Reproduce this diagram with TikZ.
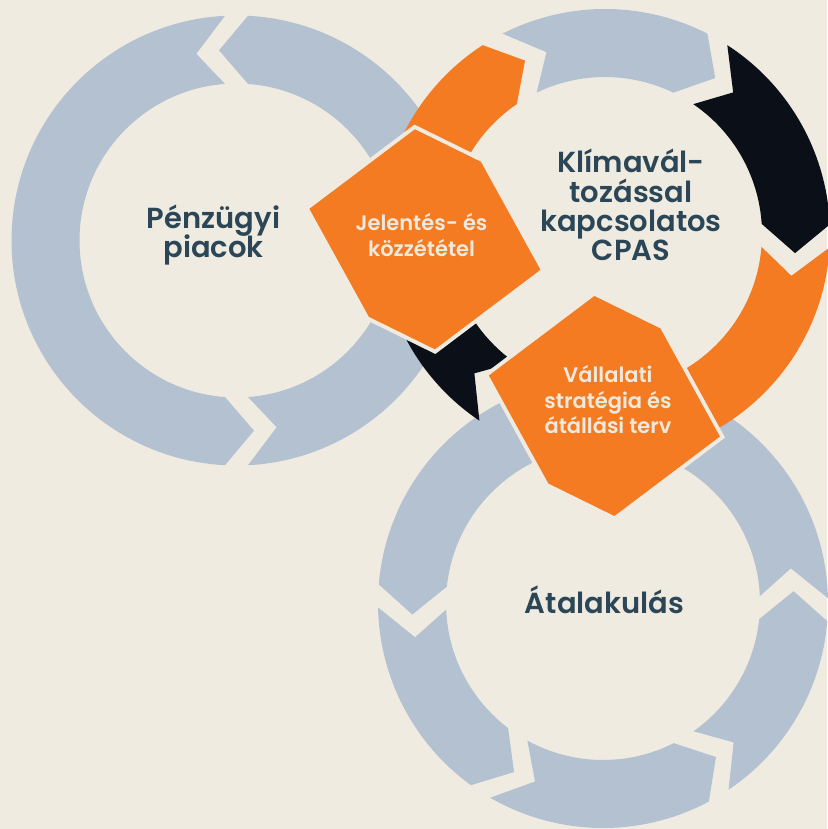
\documentclass[tikz,border=0pt]{standalone}
\usepackage{fontspec}
\setmainfont{Poppins}[BoldFont={Poppins SemiBold}]
\usetikzlibrary{calc}
\definecolor{bg}{RGB}{239,235,225}
\definecolor{ringblue}{RGB}{179,193,209}
\definecolor{ringorange}{RGB}{244,123,34}
\definecolor{ringnavy}{RGB}{11,15,24}
\definecolor{textdark}{RGB}{43,70,87}
\definecolor{hexcream}{RGB}{240,234,222}
% counter-clockwise piece: tip at start angle, notch at end angle
\newcommand\ccwpiece[4]{%
  \pgfmathsetmacro\PcOa{#2+2.93}\pgfmathsetmacro\PcOb{#3-2.93}%
  \pgfmathsetmacro\PcNb{#3-12.15}\pgfmathsetmacro\PcIb{#3-4.2}%
  \pgfmathsetmacro\PcIa{#2+4.2}\pgfmathsetmacro\PcTa{#2-5.25}%
  \fill[#4] ($(#1)+(\PcOa:225)$) arc[start angle=\PcOa, end angle=\PcOb, radius=225]
    -- ($(#1)+(\PcNb:191)$) -- ($(#1)+(\PcIb:157)$)
    arc[start angle=\PcIb, end angle=\PcIa, radius=157]
    -- ($(#1)+(\PcTa:191)$) -- cycle;}
% clockwise piece: notch at start angle, tip at end angle
\newcommand\cwpiece[4]{%
  \pgfmathsetmacro\PcOa{#2+2.93}\pgfmathsetmacro\PcOb{#3-2.93}%
  \pgfmathsetmacro\PcNb{#3+5.25}\pgfmathsetmacro\PcIb{#3-4.2}%
  \pgfmathsetmacro\PcIa{#2+4.2}\pgfmathsetmacro\PcTa{#2+12.15}%
  \fill[#4] ($(#1)+(\PcOa:225)$) arc[start angle=\PcOa, end angle=\PcOb, radius=225]
    -- ($(#1)+(\PcNb:191)$) -- ($(#1)+(\PcIb:157)$)
    arc[start angle=\PcIb, end angle=\PcIa, radius=157]
    -- ($(#1)+(\PcTa:191)$) -- cycle;}
\begin{document}
\begin{tikzpicture}[x=1pt,y=-1pt,
  maintext/.style={font=\bfseries\fontsize{29}{29}\selectfont, text=textdark, inner sep=0pt, anchor=base},
  hextext/.style={font=\bfseries\fontsize{21}{21}\selectfont, text=hexcream, inner sep=0pt, anchor=base},
  hexborder/.style={fill=bg, draw=bg, line width=8pt, line join=miter},
  hexfill/.style={fill=ringorange}]
\fill[bg] (0,0) rectangle (827,829);
\useasboundingbox (0,0) rectangle (827,829);
\coordinate (c1) at (236.5,240.5);
\coordinate (c2) at (605,234);
\coordinate (c3) at (603,603);
% ring 1 (counter-clockwise)
\ccwpiece{c1}{90}{270}{ringblue}
\ccwpiece{c1}{270}{450}{ringblue}
% ring 3 (counter-clockwise)
\ccwpiece{c3}{1.7}{59}{ringblue}
\ccwpiece{c3}{59}{123}{ringblue}
\ccwpiece{c3}{123}{181.8}{ringblue}
\ccwpiece{c3}{181.8}{270}{ringblue}
\ccwpiece{c3}{270}{361.7}{ringblue}
% ring 2 (clockwise)
\cwpiece{c2}{240}{300}{ringblue}
\cwpiece{c2}{300}{360.5}{ringnavy}
\cwpiece{c2}{0.5}{95}{ringorange}
\cwpiece{c2}{121}{180}{ringnavy}
\cwpiece{c2}{180}{240}{ringorange}
% hexagons
\foreach \h/\cx/\cy in {h1/424.9/239.3, h2/604.4/406}{
  \coordinate (\h) at (\cx,\cy);
  \path[hexborder] ($(\h)+(-115.5,-30.5)$) -- ($(\h)+(-10,-110)$) -- ($(\h)+(56,-77.5)$)
    -- ($(\h)+(115.5,30.5)$) -- ($(\h)+(10,110)$) -- ($(\h)+(-56,77.5)$) -- cycle;
  \path[hexfill] ($(\h)+(-115.5,-30.5)$) -- ($(\h)+(-10,-110)$) -- ($(\h)+(56,-77.5)$)
    -- ($(\h)+(115.5,30.5)$) -- ($(\h)+(10,110)$) -- ($(\h)+(-56,77.5)$) -- cycle;
}
% texts
\node[maintext] (p1) at (213.5,228) {Pénzügyi};
\node[maintext] (p2) at (213.5,257) {piacok};
\node[maintext] (k1) at (631,173) {Klímavál-};
\node[maintext] (k2) at (631,202) {tozással};
\node[maintext] (k3) at (631,231) {kapcsolatos};
\node[maintext] (k4) at (631,260) {CPAS};
\node[maintext] (a1) at (604.5,613) {Átalakulás};
\node[hextext] (j1) at (421.5,230) {Jelentés- és};
\node[hextext] (j2) at (421.5,256) {közzététel};
\node[hextext] (v1) at (608,382) {Vállalati};
\node[hextext] (v2) at (608,408) {stratégia és};
\node[hextext] (v3) at (608,433) {átállási terv};
\end{tikzpicture}
\end{document}
